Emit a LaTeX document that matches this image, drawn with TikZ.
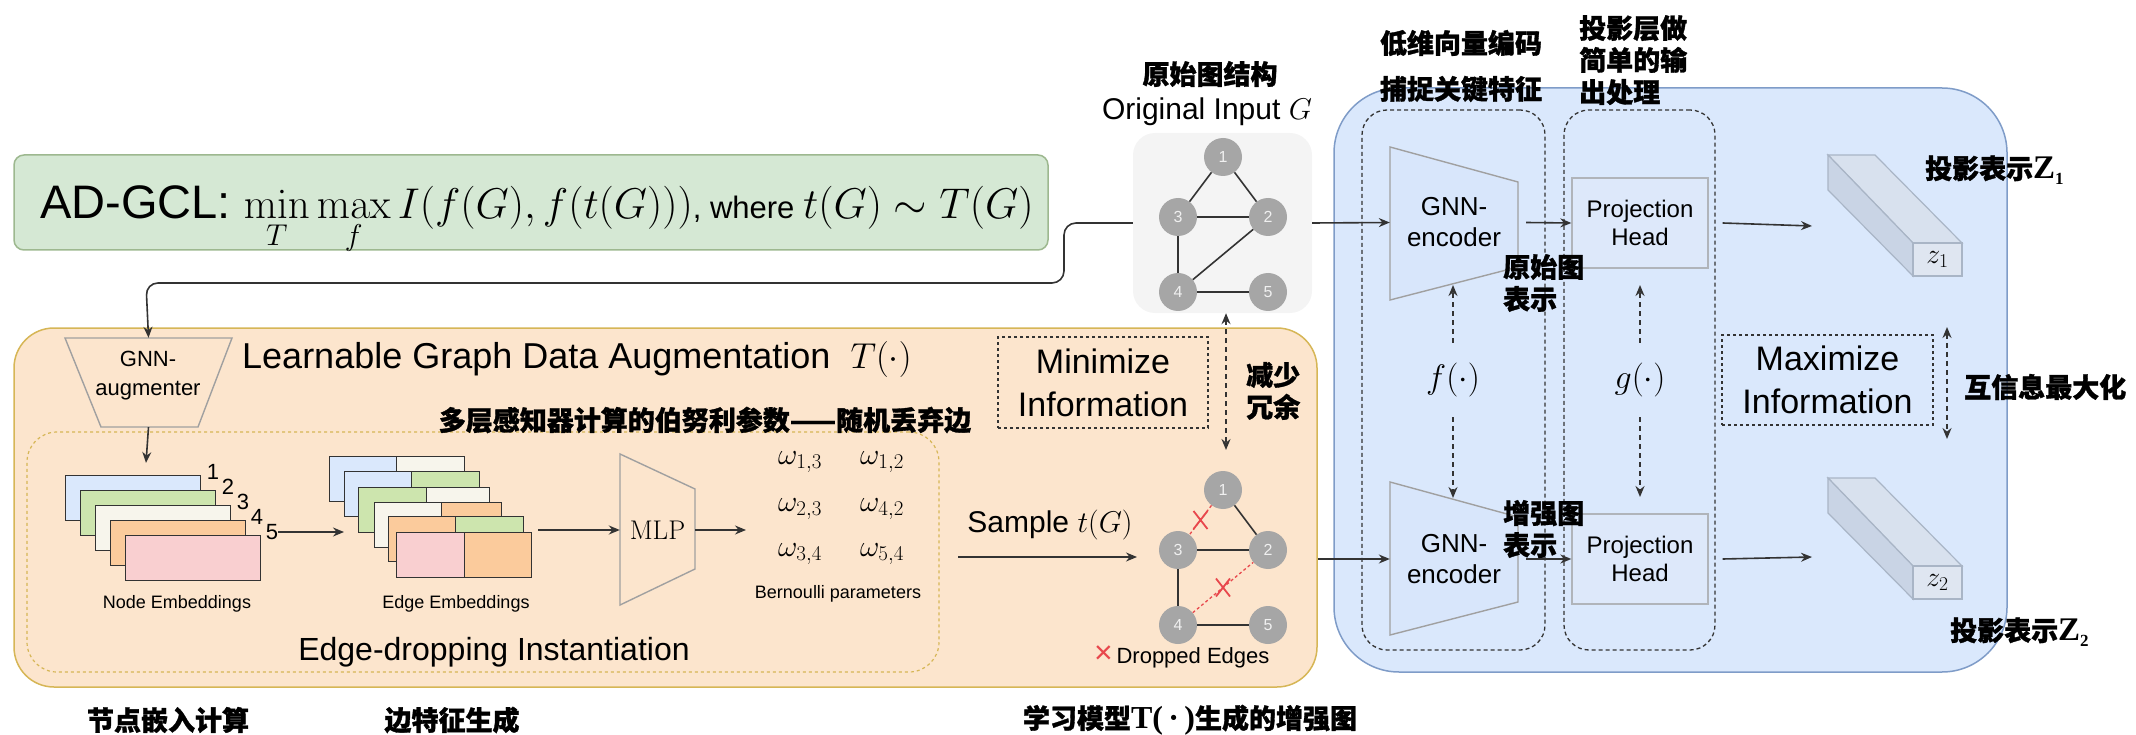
\RequirePackage{fix-cm}
\documentclass[tikz,border=0pt]{standalone}
\usepackage[no-math]{fontspec}
\setmainfont{Liberation Sans}
\newfontfamily\cjk{Noto Sans CJK SC}[BoldFeatures={FakeBold=1.2}]
\newfontfamily\tnr{Liberation Serif}
\usetikzlibrary{arrows.meta,calc}
\newcommand{\fsz}[2]{\fontsize{#1}{#2}\selectfont}
\definecolor{dark}{HTML}{333333}
\definecolor{gfill}{HTML}{D5E8D4}
\definecolor{gdraw}{HTML}{9DB88F}
\definecolor{ofill}{HTML}{FCE5CD}
\definecolor{odraw}{HTML}{D6B656}
\definecolor{bfill}{HTML}{DAE8FC}
\definecolor{bdraw}{HTML}{7F9CC8}
\definecolor{grayfill}{HTML}{F4F4F4}
\definecolor{nodegray}{HTML}{A6A6A6}
\definecolor{shapegray}{HTML}{A0A0A0}
\definecolor{xred}{HTML}{E8474C}
\definecolor{eblue}{HTML}{DAE8FC}
\definecolor{egreen}{HTML}{CDE5AE}
\definecolor{ewhite}{HTML}{F7F5EC}
\definecolor{eorange}{HTML}{FBCB9C}
\definecolor{epink}{HTML}{F9CFD0}
\definecolor{projfill}{HTML}{DDE8FA}
\definecolor{projdraw}{HTML}{B0B4BA}
\definecolor{encfill}{HTML}{D8E6FB}
\definecolor{cubetop}{HTML}{D8E1EE}
\definecolor{cubeside}{HTML}{C9D4E5}
\definecolor{cubefront}{HTML}{DFE6F1}
\definecolor{cubedraw}{HTML}{A9B5C6}
\tikzset{
  conn/.style={draw=dark, line width=1.6pt, -{Stealth[length=11pt,width=9pt]}},
  dconn/.style={conn, dash pattern=on 5pt off 4pt},
  ddconn/.style={draw=dark, line width=1.6pt, dash pattern=on 5pt off 4pt, {Stealth[length=11pt,width=9pt]}-{Stealth[length=11pt,width=9pt]}},
  gnode/.style={circle, fill=nodegray, draw=none, minimum size=38pt, inner sep=0, text=white!88!gray, font=\fsz{16}{16}},
  gedge/.style={draw=dark, line width=1.6pt},
  dropedge/.style={draw=xred, line width=1.3pt, dash pattern=on 3pt off 2.5pt},
  xmark/.style={draw=xred, line width=1.8pt},
  emb/.style={draw=dark, line width=1.4pt, minimum height=45pt, inner sep=0, anchor=north west},
  zhlab/.style={font=\fsz{27}{32}\cjk\bfseries, inner sep=0},
  dashbox/.style={draw=dark, dash pattern=on 4pt off 3pt, line width=1.3pt, rounded corners=25pt, inner sep=0},
  infobox/.style={draw=dark, dash pattern=on 3pt off 3pt, line width=1.3pt, inner sep=0, align=center, font=\fsz{34}{43}},
  trap/.style={draw=shapegray, line width=1.4pt},
  cube/.style={draw=cubedraw, line width=1.2pt},
  plain/.style={inner sep=0}
}
\begin{document}
\begin{tikzpicture}[x=1pt,y=-1pt]
\useasboundingbox (0,0) rectangle (2136,735);

% ---------- big containers ----------
\node[draw=bdraw, fill=bfill, line width=1.5pt, rounded corners=65pt, minimum width=673pt, minimum height=584pt, inner sep=0] (blue) at (1670.5,380) {};
\node[draw=odraw, fill=ofill, line width=1.5pt, rounded corners=40pt, minimum width=1303pt, minimum height=359pt, inner sep=0] (orange) at (665.5,507.5) {};
\node[draw=odraw, dash pattern=on 3pt off 3pt, line width=1.2pt, rounded corners=30pt, minimum width=912pt, minimum height=240pt, inner sep=0] (edi) at (483,552) {};
\node[fill=grayfill, rounded corners=22pt, minimum width=179pt, minimum height=180pt, inner sep=0] (gbox) at (1222.5,223) {};
\node[draw=gdraw, fill=gfill, line width=1.5pt, rounded corners=10pt, minimum width=1034pt, minimum height=95pt, inner sep=0] (gcl) at (531,202.5) {};
\node[plain, anchor=base west, font=\fsz{47}{50}] (gcltxt) at (40,219)
  {AD-GCL: {\fsz{43}{46}$\min\limits_{\rule{0pt}{25pt}T}\max\limits_{\rule{0pt}{25pt}f} I(f(G), f(t(G)))${\fsz{31}{44}, where\ }$t(G)\sim T(G)$}};

% ---------- top connector ----------
\coordinate (c1) at (1064,223);
\coordinate (c2) at (1064,283);
\coordinate (c3) at (146,283);

% ---------- GNN augmenter ----------
\node[plain, minimum width=167pt, minimum height=89pt] (aug) at (148.5,382.5) {};
\draw[trap] (65,338) -- (232,338) -- (198,427) -- (101,427) -- cycle;
\node[plain, align=center, font=\fsz{22}{29}] (augtxt) at (148,376) {GNN-\\augmenter};
\draw[conn, rounded corners=12pt] (gbox.west) -- (c1) -- (c2) -- (c3) -- (aug.north);
\coordinate (augarr) at (146,463);
\draw[conn] (aug.south) -- (augarr);

\node[plain, anchor=west, font=\fsz{36}{40}] (lgda) at (242,360) {Learnable Graph Data Augmentation\ \ $T(\cdot)$};

% ---------- node embeddings ----------
\node[emb, fill=eblue,   minimum width=135pt] (ne1) at (65,475) {};
\node[emb, fill=egreen,  minimum width=135pt] (ne2) at (80,490) {};
\node[emb, fill=ewhite,  minimum width=135pt] (ne3) at (95,505) {};
\node[emb, fill=eorange, minimum width=135pt] (ne4) at (110,520) {};
\node[emb, fill=epink,   minimum width=135pt] (ne5) at (125,535) {};
\node[plain, font=\fsz{22}{22}] (l1) at (213,472) {1};
\node[plain, font=\fsz{22}{22}] (l2) at (228,487) {2};
\node[plain, font=\fsz{22}{22}] (l3) at (243,502) {3};
\node[plain, font=\fsz{22}{22}] (l4) at (257,517) {4};
\node[plain, font=\fsz{22}{22}] (l5) at (272,532) {5};
\node[plain, font=\fsz{18}{18}] (nelab) at (177,604) {Node Embeddings};

% ---------- edge embeddings ----------
\node[emb, fill=eblue,   minimum width=67pt] (ee1a) at (329,456) {};
\node[emb, fill=ewhite,  minimum width=68pt] (ee1b) at (396,456) {};
\node[emb, fill=eblue,   minimum width=67pt] (ee2a) at (344,471) {};
\node[emb, fill=egreen,  minimum width=68pt] (ee2b) at (411,471) {};
\node[emb, fill=egreen,  minimum width=68pt] (ee3a) at (358,487) {};
\node[emb, fill=ewhite,  minimum width=63pt] (ee3b) at (426,487) {};
\node[emb, fill=ewhite,  minimum width=67pt] (ee4a) at (374,502) {};
\node[emb, fill=eorange, minimum width=60pt] (ee4b) at (441,502) {};
\node[emb, fill=eorange, minimum width=67pt] (ee5a) at (388,516) {};
\node[emb, fill=egreen,  minimum width=68pt] (ee5b) at (455,516) {};
\node[emb, fill=epink,   minimum width=68pt] (ee6a) at (396,532) {};
\node[emb, fill=eorange, minimum width=67pt] (ee6b) at (464,532) {};
\node[plain, font=\fsz{18}{18}] (eelab) at (456,604) {Edge Embeddings};
\draw[conn] (l5.east) -- (l5.east -| ee2a.west);

% ---------- MLP ----------
\node[plain, minimum width=75pt, minimum height=151pt, font=\fsz{27}{27}] (mlp) at (657.5,530) {$\mathrm{MLP}$};
\draw[trap] (620,454) -- (695,489) -- (695,569) -- (620,605) -- cycle;
\coordinate (eeout) at (538,530);
\draw[conn] (eeout) -- (mlp.west);
\coordinate (wout) at (746,530);
\draw[conn] (mlp.east) -- (wout);

% ---------- Bernoulli parameters ----------
\node[plain, font=\fsz{30}{30}] (w13) at (800,462) {$\omega_{1,3}$};
\node[plain, font=\fsz{30}{30}] (w12) at (882,462) {$\omega_{1,2}$};
\node[plain, font=\fsz{30}{30}] (w23) at (800,509) {$\omega_{2,3}$};
\node[plain, font=\fsz{30}{30}] (w42) at (882,509) {$\omega_{4,2}$};
\node[plain, font=\fsz{30}{30}] (w34) at (800,554) {$\omega_{3,4}$};
\node[plain, font=\fsz{30}{30}] (w54) at (882,554) {$\omega_{5,4}$};
\node[plain, font=\fsz{18}{18}] (bern) at (838,594) {Bernoulli parameters};

\node[plain, font=\fsz{32}{32}] (edtxt) at (494,652) {Edge-dropping Instantiation};
\node[zhlab] (mlpzh) at (705,420) {多层感知器计算的伯努利参数——随机丢弃边};

% ---------- Minimize ----------
\node[infobox, minimum width=210pt, minimum height=91pt] (minbox) at (1103,382.5) {Minimize\\Information};
\coordinate (minarr) at (1226,450);
\draw[ddconn] (gbox.south -| minarr) -- (minarr);
\node[zhlab, anchor=west, align=left] (jsry) at (1246,391) {减少\\冗余};

% ---------- original graph ----------
\node[zhlab] (ysjg) at (1210,74) {原始图结构};
\node[plain, font=\fsz{30}{30}] (oig) at (1207,112) {Original Input\ $G$};
\node[gnode] (g1) at (1223,157) {1};
\node[gnode] (g3) at (1178,217) {3};
\node[gnode] (g2) at (1268,217) {2};
\node[gnode] (g4) at (1178,292) {4};
\node[gnode] (g5) at (1268,292) {5};
\draw[gedge] (g1) -- (g3);
\draw[gedge] (g1) -- (g2);
\draw[gedge] (g3) -- (g2);
\draw[gedge] (g3) -- (g4);
\draw[gedge] (g4) -- (g2);
\draw[gedge] (g4) -- (g5);

% ---------- sample & augmented graph ----------
\node[plain, font=\fsz{30}{30}] (samp) at (1050,525) {Sample\ $t(G)$};
\coordinate (sa) at (958,557);
\coordinate (sb) at (1137,557);
\draw[conn] (sa) -- (sb);
\node[gnode] (a1) at (1223,490) {1};
\node[gnode] (a3) at (1178,550) {3};
\node[gnode] (a2) at (1268,550) {2};
\node[gnode] (a4) at (1178,625) {4};
\node[gnode] (a5) at (1268,625) {5};
\draw[gedge] (a1) -- (a2);
\draw[gedge] (a3) -- (a2);
\draw[gedge] (a3) -- (a4);
\draw[gedge] (a4) -- (a5);
\draw[dropedge] (a1) -- (a3) coordinate[midway] (x13);
\draw[dropedge] (a4) -- (a2) coordinate[midway] (x42);
\draw[xmark] ($(x13)+(-7,-9)$) -- ($(x13)+(7,9)$) ($(x13)+(7,-9)$) -- ($(x13)+(-7,9)$);
\draw[xmark] ($(x42)+(-7,-9)$) -- ($(x42)+(7,9)$) ($(x42)+(7,-9)$) -- ($(x42)+(-7,9)$);
\node[plain, font=\fsz{22}{22}, anchor=west] (dropped) at (1094,657) {\textcolor{xred}{\fsz{32}{32}×}\,Dropped Edges};

% ---------- encoder / projection groups ----------
\node[dashbox, minimum width=183pt, minimum height=540pt] (encgrp) at (1453.5,380) {};
\node[dashbox, minimum width=151pt, minimum height=540pt] (projgrp) at (1639.5,380) {};

\draw[trap, fill=encfill] (1390,147) -- (1518,182) -- (1518,267) -- (1390,300) -- cycle;
\node[plain, minimum width=128pt, minimum height=153pt, align=center, font=\fsz{26}{31}] (enc1) at (1454,222.5) {GNN-\\encoder};
\draw[trap, fill=encfill] (1390,482) -- (1518,517) -- (1518,602) -- (1390,635) -- cycle;
\node[plain, minimum width=128pt, minimum height=153pt, align=center, font=\fsz{26}{31}] (enc2) at (1454,559) {GNN-\\encoder};

\node[draw=projdraw, fill=projfill, line width=1.4pt, minimum width=136pt, minimum height=90pt, inner sep=0, align=center, font=\fsz{24}{28}] (proj1) at (1640,223) {Projection\\Head};
\node[draw=projdraw, fill=projfill, line width=1.4pt, minimum width=136pt, minimum height=90pt, inner sep=0, align=center, font=\fsz{24}{28}] (proj2) at (1640,559) {Projection\\Head};

\draw[conn] (gbox.east) -- (enc1.west);
\draw[conn] (enc2.west -| orange.east) -- (enc2.west);
\draw[conn] ([xshift=8pt]enc1.east) -- (proj1.west);
\draw[conn] ([xshift=8pt]enc2.east) -- (proj2.west);
\coordinate (z1in) at (1812,226);
\coordinate (z2in) at (1812,557);
\draw[conn] ([xshift=14pt]proj1.east) -- (z1in);
\draw[conn] ([xshift=14pt]proj2.east) -- (z2in);

% f and g
\node[plain, minimum height=74pt, font=\fsz{34}{34}] (f) at (1453,380) {$f(\cdot)$};
\node[plain, minimum height=74pt, font=\fsz{34}{34}] (g) at (1640,380) {$g(\cdot)$};
\coordinate (fup) at (1453,285);
\coordinate (fdn) at (1453,498);
\coordinate (gup) at (1640,285);
\coordinate (gdn) at (1640,497);
\draw[dconn] (f.north) -- (fup);
\draw[dconn] (f.south) -- (fdn);
\draw[dconn] (g.north) -- (gup);
\draw[dconn] (g.south) -- (gdn);

% Maximize
\node[infobox, minimum width=211pt, minimum height=90pt] (maxbox) at (1827.5,380) {Maximize\\Information};
\coordinate (mxa) at (1947,327);
\coordinate (mxb) at (1947,439);
\draw[ddconn] (mxa) -- (mxb);
\node[zhlab, anchor=west] (hxx) at (1964,387) {互信息最大化};

% cuboids
\draw[cube, fill=cubetop] (1828,155) -- (1875,155) -- (1962,243) -- (1913,243) -- cycle;
\draw[cube, fill=cubeside] (1828,155) -- (1913,243) -- (1913,276) -- (1828,190) -- cycle;
\node[cube, fill=cubefront, minimum width=49pt, minimum height=33pt, inner sep=0, font=\fsz{28}{28}] (z1) at (1937.5,259.5) {$z_1$};
\draw[cube, fill=cubetop] (1828,478) -- (1875,478) -- (1962,566) -- (1913,566) -- cycle;
\draw[cube, fill=cubeside] (1828,478) -- (1913,566) -- (1913,599) -- (1828,513) -- cycle;
\node[cube, fill=cubefront, minimum width=49pt, minimum height=33pt, inner sep=0, font=\fsz{28}{28}] (z2) at (1937.5,582.5) {$z_2$};

% ---------- chinese annotations ----------
\node[zhlab] (dwxl) at (1461,43) {低维向量编码};
\node[zhlab] (bzgj) at (1461,89) {捕捉关键特征};
\node[zhlab, anchor=north west, align=left] (tyc) at (1579,15) {投影层做\\简单的输\\出处理};
\node[zhlab, anchor=west, align=left] (ystb) at (1503,283) {原始图\\表示};
\node[zhlab, anchor=west, align=left] (zqtb) at (1503,529) {增强图\\表示};
\node[zhlab, anchor=west] (tyz1) at (1925,170) {投影表示{\tnr\bfseries\fsz{33}{33}Z\raisebox{-6pt}{\fsz{17}{17}1}}};
\node[zhlab, anchor=west] (tyz2) at (1950,632) {投影表示{\tnr\bfseries\fsz{33}{33}Z\raisebox{-6pt}{\fsz{17}{17}2}}};
\node[zhlab] (jdqr) at (168,720) {节点嵌入计算};
\node[zhlab] (btz) at (452,720) {边特征生成};
\node[zhlab] (xxmx) at (1190,720) {学习模型{\tnr\bfseries\fsz{32}{32}T(\,·\,)}生成的增强图};
\end{tikzpicture}
\end{document}
